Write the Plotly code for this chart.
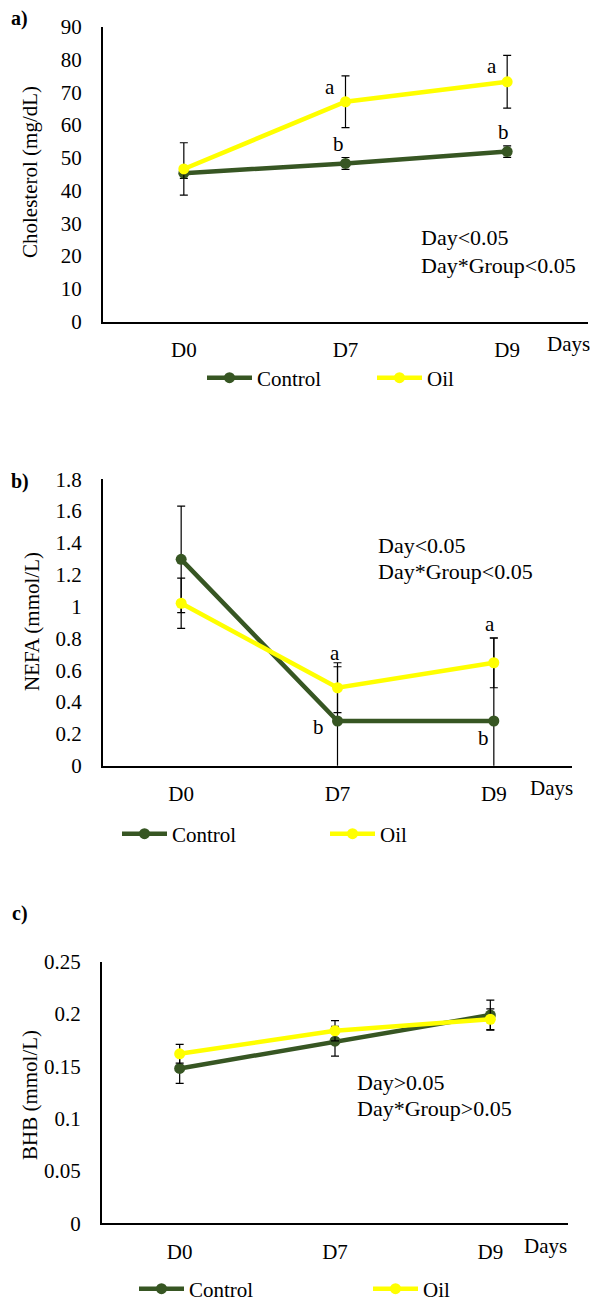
import plotly.graph_objects as go

W, H = 590, 1303
FONT = "Times New Roman"
CONTROL_COLOR = "#375623"
OIL_COLOR = "#FFFF00"

# ---------------- data ----------------
days = ["D0", "D7", "D9"]
series_names = ["Control", "Oil"]

chol_control = [45.3, 48.3, 51.9]
chol_control_se = [1.6, 1.8, 1.75]
chol_oil = [46.6, 67.1, 73.2]
chol_oil_se = [8.0, 7.9, 8.05]

nefa_control = [1.297, 0.281, 0.281]
nefa_control_se = [0.335, 0.341, 0.52]
nefa_oil = [1.021, 0.490, 0.647]
nefa_oil_se = [0.158, 0.157, 0.157]

bhb_control = [0.148, 0.174, 0.199]
bhb_control_se = [0.0143, 0.0143, 0.0143]
bhb_oil = [0.162, 0.184, 0.195]
bhb_oil_se = [0.009, 0.0096, 0.010]

y_titles = ["Cholesterol (mg/dL)", "NEFA (mmol/L)", "BHB (mmol/L)"]
panel_labels = ["a)", "b)", "c)"]
stats_text = [
    ["Day<0.05", "Day*Group<0.05"],
    ["Day<0.05", "Day*Group<0.05"],
    ["Day>0.05", "Day*Group>0.05"],
]
y_ranges = [[0, 90], [0, 1.8], [0, 0.25]]
y_dticks = [10, 0.2, 0.05]

# significance letters: (panel, series index 0=Control 1=Oil, day index, letter)
letters = [
    (0, 1, 1, "a"), (0, 1, 2, "a"), (0, 0, 1, "b"), (0, 0, 2, "b"),
    (1, 1, 1, "a"), (1, 1, 2, "a"), (1, 0, 1, "b"), (1, 0, 2, "b"),
]

# ---------------- layout geometry (pixels) ----------------
panels = [
    dict(x0=103, x1=588, ytop=26.7, ybot=321.7,
         ctrl=chol_control, ctrl_se=chol_control_se, oil=chol_oil, oil_se=chol_oil_se,
         label_xy=(19, 18), title_xy=(30, 172), stats_xy=(419, 238, 265),
         days_xy=(545, 344), legend_y=378, legend_x=(207, 377)),
    dict(x0=103, x1=572, ytop=479.3, ybot=765.7,
         ctrl=nefa_control, ctrl_se=nefa_control_se, oil=nefa_oil, oil_se=nefa_oil_se,
         label_xy=(20, 481), title_xy=(32, 622), stats_xy=(376, 546, 572),
         days_xy=(528, 788), legend_y=834, legend_x=(122, 330)),
    dict(x0=102, x1=568, ytop=961.7, ybot=1223.3,
         ctrl=bhb_control, ctrl_se=bhb_control_se, oil=bhb_oil, oil_se=bhb_oil_se,
         label_xy=(20, 913), title_xy=(30, 1095), stats_xy=(355, 1082, 1108),
         days_xy=(522, 1246), legend_y=1289, legend_x=(139, 373)),
]

# letter offsets in px (xshift, yshift) relative to the point
letter_offsets = {
    (0, 1, 1): (-16, 15), (0, 1, 2): (-15, 16), (0, 0, 1): (-7, 19), (0, 0, 2): (-4, 20),
    (1, 1, 1): (-3, 35), (1, 1, 2): (-4, 39), (1, 0, 1): (-19, -6), (1, 0, 2): (-10, -17),
}


def px_x(x):
    return x / W


def px_y(y):
    return 1 - y / H


fig = go.Figure()
annotations = []
layout_axes = {}
legend_defs = {}
legend_count = 0

for i, p in enumerate(panels):
    sfx = "" if i == 0 else str(i + 1)
    xa, ya = "x" + sfx, "y" + sfx
    for s, (name, vals, se, color) in enumerate([
        ("Control", p["ctrl"], p["ctrl_se"], CONTROL_COLOR),
        ("Oil", p["oil"], p["oil_se"], OIL_COLOR),
    ]):
        legend_count += 1
        lname = "legend" if legend_count == 1 else "legend" + str(legend_count)
        fig.add_trace(go.Scatter(
            x=days, y=vals, name=name, mode="lines+markers",
            line=dict(color=color, width=4.5),
            marker=dict(color=color, size=11),
            error_y=dict(type="data", array=se, symmetric=True,
                         color="black", thickness=1.2, width=4),
            xaxis=xa, yaxis=ya, legend=lname, showlegend=True,
        ))
        legend_defs[lname] = dict(
            x=px_x(p["legend_x"][s] - 5), y=px_y(p["legend_y"]),
            xanchor="left", yanchor="middle", orientation="h",
            bgcolor="rgba(0,0,0,0)", borderwidth=0,
            font=dict(family=FONT, size=21, color="black"),
            itemwidth=45,
        )

    layout_axes["xaxis" + sfx] = dict(
        domain=[px_x(p["x0"]), px_x(p["x1"])], anchor=ya,
        type="category", categoryorder="array", categoryarray=days,
        range=[-0.5, 2.5], showline=True, linecolor="black", linewidth=2,
        showgrid=False, zeroline=False, ticks="", automargin=False,
        tickfont=dict(family=FONT, size=21, color="black"),
        ticklabelstandoff=8,
    )
    layout_axes["yaxis" + sfx] = dict(
        domain=[px_y(p["ybot"]), px_y(p["ytop"])], anchor=xa,
        range=y_ranges[i], dtick=y_dticks[i], tick0=0,
        showline=True, linecolor="black", linewidth=2,
        showgrid=False, zeroline=False, ticks="", automargin=False,
        tickfont=dict(family=FONT, size=21, color="black"),
        ticklabelstandoff=15,
    )

    # panel label
    annotations.append(dict(
        text="<b>" + panel_labels[i] + "</b>", xref="paper", yref="paper",
        x=px_x(p["label_xy"][0]), y=px_y(p["label_xy"][1]),
        xanchor="center", yanchor="middle", showarrow=False,
        font=dict(family=FONT, size=20, color="black")))
    # y title
    annotations.append(dict(
        text=y_titles[i], xref="paper", yref="paper",
        x=px_x(p["title_xy"][0]), y=px_y(p["title_xy"][1]),
        xanchor="center", yanchor="middle", textangle=-90, showarrow=False,
        font=dict(family=FONT, size=21, color="black")))
    # stats
    sx, sy1, sy2 = p["stats_xy"]
    for txt, sy in zip(stats_text[i], [sy1, sy2]):
        annotations.append(dict(
            text=txt, xref="paper", yref="paper", x=px_x(sx), y=px_y(sy),
            xanchor="left", yanchor="middle", showarrow=False,
            font=dict(family=FONT, size=22, color="black")))
    # Days
    annotations.append(dict(
        text="Days", xref="paper", yref="paper",
        x=px_x(p["days_xy"][0]), y=px_y(p["days_xy"][1]),
        xanchor="left", yanchor="middle", showarrow=False,
        font=dict(family=FONT, size=21, color="black")))

# significance letters
for (pi, si, di, txt) in letters:
    p = panels[pi]
    sfx = "" if pi == 0 else str(pi + 1)
    vals = p["ctrl"] if si == 0 else p["oil"]
    dx, dy = letter_offsets[(pi, si, di)]
    annotations.append(dict(
        text=txt, xref="x" + sfx, yref="y" + sfx, x=days[di], y=vals[di],
        xshift=dx, yshift=dy, xanchor="center", yanchor="middle",
        showarrow=False, font=dict(family=FONT, size=21, color="black")))

fig.update_layout(
    template="none",
    width=W, height=H, margin=dict(l=0, r=0, t=0, b=0, pad=0, autoexpand=False),
    paper_bgcolor="white", plot_bgcolor="white",
    font=dict(family=FONT, size=21, color="black"),
    annotations=annotations, **layout_axes, **legend_defs,
)

fig.write_html(
    "out.html",
    config={"displayModeBar": False},
    post_script="document.body.style.margin='0';document.body.style.padding='0';",
)
